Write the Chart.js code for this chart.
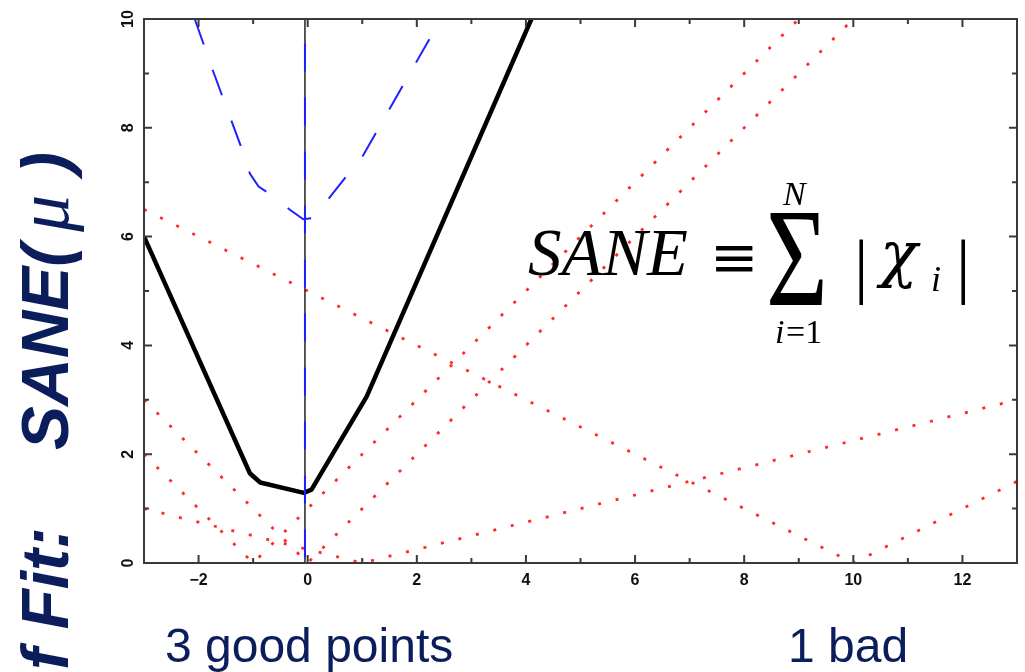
<!DOCTYPE html>
<html>
<head>
<meta charset="utf-8">
<script src="https://cdn.jsdelivr.net/npm/chart.js@4.4.1/dist/chart.umd.min.js"></script>
<style>
  html, body { margin: 0; padding: 0; background: #fff; }
  #wrap { width: 1025px; height: 672px; }
</style>
</head>
<body>
<div id="wrap"><canvas id="saneChart" width="1025" height="672"></canvas></div>
<script>
// ==========================================
// SANE(mu) - sum of absolute residuals
// ==========================================

// |chi_i| for the 3 good points + the bad one (red dotted)
const chi1X = [-3, 0, 10];
const chi1Y = [3, 0, 10];
const chi2X = [-3, -1, 9];
const chi2Y = [2, 0, 10];
const chi3X = [-3, 1, 13];
const chi3Y = [1, 0, 3];
const badX = [-3, 10, 13];
const badY = [6.5, 0, 1.5];

// SANE curve (black solid)
const saneX = [-3, -1.06, -0.87, -0.07, 0.07, 1.08, 4.1];
const saneY = [6, 1.65, 1.48, 1.29, 1.35, 3.06, 10];

// blue dashed curve
const blueX = [-2.07, -1.73, -1.21, -1.06, -0.9, -0.72, -0.32, -0.08, 0.1, 0.41, 1.02, 2.27];
const blueY = [10, 9.03, 7.62, 7.16, 6.92, 6.8, 6.49, 6.32, 6.34, 6.73, 7.5, 9.7];

// best-fit mu marker
const muX = [-0.05, -0.05];
const muBlackY = [0, 10];
const muBlueY = [0.1, 9.65];

// axes
const xTickLabels = [-2, 0, 2, 4, 6, 8, 10, 12];
const yTickLabels = [0, 2, 4, 6, 8, 10];
const xMinorTicks = [-3, -1, 1, 3, 5, 7, 9, 11, 13];
const yMinorTicks = [1, 3, 5, 7, 9];

const NAVY = '#0b1e5b';
const RED = '#ff2b2b';
const BLUE = '#1f1fff';

function pts(xs, ys) {
    return xs.map((x, i) => ({ x: x, y: ys[i] }));
}

function redLine(xs, ys) {
    return {
        data: pts(xs, ys),
        borderColor: RED,
        borderWidth: 2.8,
        borderDash: [3, 15],
        order: 4
    };
}

// Plugin: frame, inward ticks, tick labels and all text
const frameAndText = {
    id: 'frameAndText',
    afterDatasetsDraw: function(chart) {
        const ctx = chart.ctx;
        const xs = chart.scales.x;
        const ys = chart.scales.y;
        const a = chart.chartArea;

        ctx.save();
        // frame
        ctx.strokeStyle = '#3a3a3a';
        ctx.lineWidth = 2;
        ctx.strokeRect(a.left, a.top, a.right - a.left, a.bottom - a.top);

        // ticks
        ctx.beginPath();
        xTickLabels.forEach(v => {
            const p = xs.getPixelForValue(v);
            ctx.moveTo(p, a.bottom); ctx.lineTo(p, a.bottom - 8);
            ctx.moveTo(p, a.top); ctx.lineTo(p, a.top + 8);
        });
        xMinorTicks.forEach(v => {
            const p = xs.getPixelForValue(v);
            ctx.moveTo(p, a.bottom); ctx.lineTo(p, a.bottom - 5);
            ctx.moveTo(p, a.top); ctx.lineTo(p, a.top + 5);
        });
        yTickLabels.forEach(v => {
            const p = ys.getPixelForValue(v);
            ctx.moveTo(a.left, p); ctx.lineTo(a.left + 8, p);
            ctx.moveTo(a.right, p); ctx.lineTo(a.right - 8, p);
        });
        yMinorTicks.forEach(v => {
            const p = ys.getPixelForValue(v);
            ctx.moveTo(a.left, p); ctx.lineTo(a.left + 5, p);
            ctx.moveTo(a.right, p); ctx.lineTo(a.right - 5, p);
        });
        ctx.stroke();

        // tick labels
        ctx.fillStyle = '#111';
        ctx.font = 'bold 16px "Liberation Sans", Arial, sans-serif';
        ctx.textAlign = 'center';
        ctx.textBaseline = 'alphabetic';
        xTickLabels.forEach(v => {
            const txt = v < 0 ? '\u2212' + Math.abs(v) : String(v);
            ctx.fillText(txt, xs.getPixelForValue(v), a.bottom + 22);
        });
        yTickLabels.forEach(v => {
            ctx.save();
            ctx.translate(a.left - 11, ys.getPixelForValue(v));
            ctx.rotate(-Math.PI / 2);
            ctx.fillText(String(v), 0, 0);
            ctx.restore();
        });

        // formula: SANE = sum_{i=1}^{N} |chi_i|
        ctx.fillStyle = '#000';
        ctx.textAlign = 'left';
        ctx.font = 'italic 67px "Liberation Serif", "DejaVu Serif", serif';
        ctx.fillText('SANE', 528, 275);
        ctx.font = '58px "DejaVu Serif", serif';
        ctx.fillText('\u2261', 710, 277);
        ctx.save();
        ctx.translate(766, 305);
        ctx.scale(0.76, 1);
        ctx.font = '140px "Liberation Serif", "DejaVu Serif", serif';
        ctx.fillText('\u03A3', 0, 0);
        ctx.restore();
        ctx.font = 'italic 34px "Liberation Serif", serif';
        ctx.fillText('N', 783, 205);
        ctx.fillText('i', 775, 343);
        ctx.font = '34px "Liberation Serif", serif';
        ctx.fillText('=1', 786, 343);
        ctx.font = '72px "Liberation Serif", serif';
        ctx.fillText('|', 854, 290);
        ctx.fillText('|', 956, 290);
        ctx.font = 'italic 62px "DejaVu Serif", serif';
        ctx.fillText('\u03C7', 880, 275);
        ctx.font = 'italic 36px "Liberation Serif", serif';
        ctx.fillText('i', 931, 291);

        // rotated axis title
        ctx.fillStyle = NAVY;
        ctx.save();
        ctx.translate(68, 0);
        ctx.rotate(-Math.PI / 2);
        ctx.font = 'bold italic 66px "Liberation Sans", Arial, sans-serif';
        ctx.textAlign = 'right';
        ctx.fillText('f Fit:', -527, 0);
        ctx.textAlign = 'left';
        ctx.fillText('SANE(', -450, 0);
        ctx.fillText(')', -174, 0);
        ctx.font = 'italic 74px "Liberation Serif", serif';
        ctx.fillText('\u03BC', -232, 0);
        ctx.restore();

        // bottom captions
        ctx.font = '48px "Liberation Sans", Arial, sans-serif';
        ctx.fillText('3 good points', 165, 662);
        ctx.fillText('1 bad', 788, 662);

        ctx.restore();
    }
};

document.addEventListener('DOMContentLoaded', function() {
    const ctx = document.getElementById('saneChart');

    new Chart(ctx, {
        type: 'scatter',
        data: {
            datasets: [
                {
                    data: pts(blueX, blueY),
                    borderColor: BLUE,
                    borderWidth: 2,
                    borderDash: [27, 27],
                    order: 0
                },
                {
                    data: pts(muX, muBlueY),
                    borderColor: BLUE,
                    borderWidth: 2,
                    borderDash: [28, 26],
                    order: 1
                },
                {
                    data: pts(muX, muBlackY),
                    borderColor: '#222',
                    borderWidth: 1.5,
                    order: 2
                },
                {
                    data: pts(saneX, saneY),
                    borderColor: '#000',
                    borderWidth: 4.5,
                    borderJoinStyle: 'round',
                    order: 3
                },
                redLine(chi1X, chi1Y),
                redLine(chi2X, chi2Y),
                redLine(chi3X, chi3Y),
                redLine(badX, badY)
            ]
        },
        options: {
            responsive: false,
            devicePixelRatio: 1,
            animation: false,
            showLine: true,
            layout: {
                padding: { left: 144, right: 8, top: 19, bottom: 109 }
            },
            elements: {
                point: { radius: 0, hoverRadius: 0 },
                line: { tension: 0, fill: false }
            },
            scales: {
                x: { type: 'linear', min: -3, max: 13, display: false },
                y: { type: 'linear', min: 0, max: 10, display: false }
            },
            plugins: {
                legend: { display: false },
                tooltip: { enabled: false }
            }
        },
        plugins: [frameAndText]
    });
});
</script>
</body>
</html>
